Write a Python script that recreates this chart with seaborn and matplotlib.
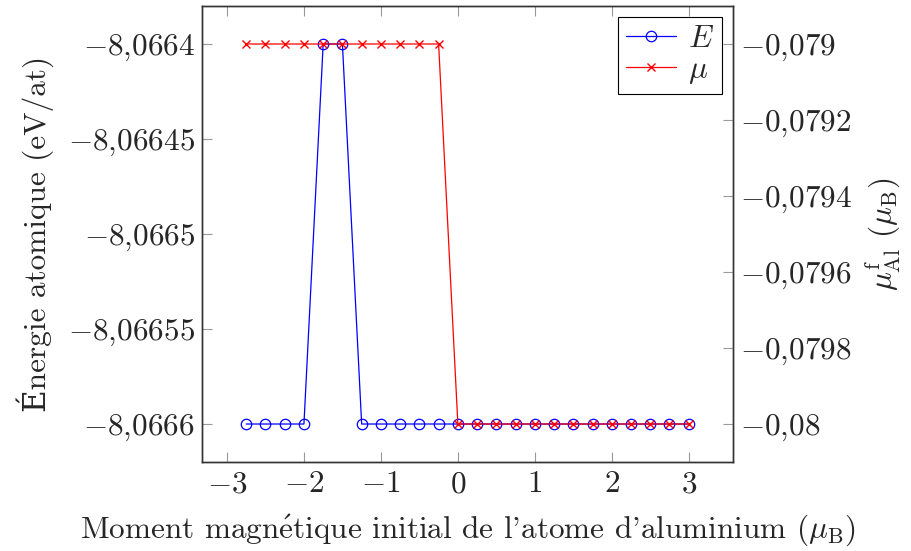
# Énergie atomique et moment de l'Al en fonction du moment initial
import numpy as np
import pandas as pd
import matplotlib
matplotlib.use("Agg")
import matplotlib.pyplot as plt
import seaborn as sns
from matplotlib.ticker import FuncFormatter

# ---------------- data ----------------
moment_init = [-2.75, -2.5, -2.25, -2.0, -1.75, -1.5, -1.25, -1.0, -0.75, -0.5, -0.25,
               0.0, 0.25, 0.5, 0.75, 1.0, 1.25, 1.5, 1.75, 2.0, 2.25, 2.5, 2.75, 3.0]
energie = [-8.0666, -8.0666, -8.0666, -8.0666, -8.0664, -8.0664, -8.0666, -8.0666,
           -8.0666, -8.0666, -8.0666, -8.0666, -8.0666, -8.0666, -8.0666, -8.0666,
           -8.0666, -8.0666, -8.0666, -8.0666, -8.0666, -8.0666, -8.0666, -8.0666]
mu_al = [-0.079, -0.079, -0.079, -0.079, -0.079, -0.079, -0.079, -0.079, -0.079,
         -0.079, -0.079, -0.08, -0.08, -0.08, -0.08, -0.08, -0.08, -0.08, -0.08,
         -0.08, -0.08, -0.08, -0.08, -0.08]

x_ticks = [-3, -2, -1, 0, 1, 2, 3]
e_ticks = [-8.0666, -8.06655, -8.0665, -8.06645, -8.0664]
mu_ticks = [-0.08, -0.0798, -0.0796, -0.0794, -0.0792, -0.079]

df = pd.DataFrame({"x": moment_init, "E": energie, "mu": mu_al})

# ---------------- style ----------------
sns.set_style("ticks")
plt.rcParams["font.family"] = ["cmr10", "DejaVu Serif"]
plt.rcParams["mathtext.fontset"] = "cm"
plt.rcParams["axes.unicode_minus"] = False
plt.rcParams["font.size"] = 22.5


def comma_fmt(v, pos):
    s = f"{v:.6f}".rstrip("0").rstrip(".")
    if s in ("-0", ""):
        s = "0"
    return "$" + s.replace(".", "{,}") + "$"


fig = plt.figure(figsize=(9.11, 5.51), dpi=100)
ax = fig.add_axes([0.2217, 0.1615, 0.5829, 0.8276])
ax2 = ax.twinx()

sns.lineplot(data=df, x="x", y="E", ax=ax, color="blue", lw=0.9,
             marker="o", markersize=7.5, markerfacecolor="none",
             markeredgecolor="blue", markeredgewidth=0.9, label="$E$", legend=False)
sns.lineplot(data=df, x="x", y="mu", ax=ax2, color="red", lw=0.9,
             marker="x", markersize=5.5, markeredgecolor="red",
             markeredgewidth=1.0, label=r"$\mu$", legend=False)

ax.set_xlim(-3.325, 3.575)
ax.set_ylim(-8.06662, -8.06638)
ax2.set_ylim(-0.0801, -0.0789)

ax.set_xticks(x_ticks)
ax.set_yticks(e_ticks)
ax2.set_yticks(mu_ticks)
for a in (ax.xaxis, ax.yaxis, ax2.yaxis):
    a.set_major_formatter(FuncFormatter(comma_fmt))

ax.tick_params(axis="x", direction="in", top=True, length=7, width=0.8,
               color="#999999", pad=6)
ax.tick_params(axis="y", direction="in", length=7, width=0.8,
               color="#999999", pad=5)
ax2.tick_params(axis="y", direction="in", length=7, width=0.8,
                color="#999999", pad=5)

for a in (ax, ax2):
    for sp in a.spines.values():
        sp.set_visible(True)
        sp.set_color("#333333")
        sp.set_linewidth(1.0)

ax.set_xlabel(r"Moment magn$\acute{\mathrm{e}}$tique initial de l'atome d'aluminium ($\mu_{\mathrm{B}}$)",
              labelpad=10)
ax.set_ylabel("Énergie atomique (eV/at)", labelpad=10)
ax2.set_ylabel(r"$\mu^{\mathrm{f}}_{\mathrm{Al}}$ $(\mu_{\mathrm{B}})$", labelpad=8)

h1, l1 = ax.get_legend_handles_labels()
h2, l2 = ax2.get_legend_handles_labels()
leg = ax2.legend(h1 + h2, l1 + l2, loc="upper right", borderaxespad=0.35,
                 fancybox=False, framealpha=1, edgecolor="black",
                 handlelength=1.6, handletextpad=0.4, borderpad=0.25,
                 labelspacing=0.1)
leg.get_frame().set_linewidth(0.8)

fig.savefig("out.png", dpi=100)
